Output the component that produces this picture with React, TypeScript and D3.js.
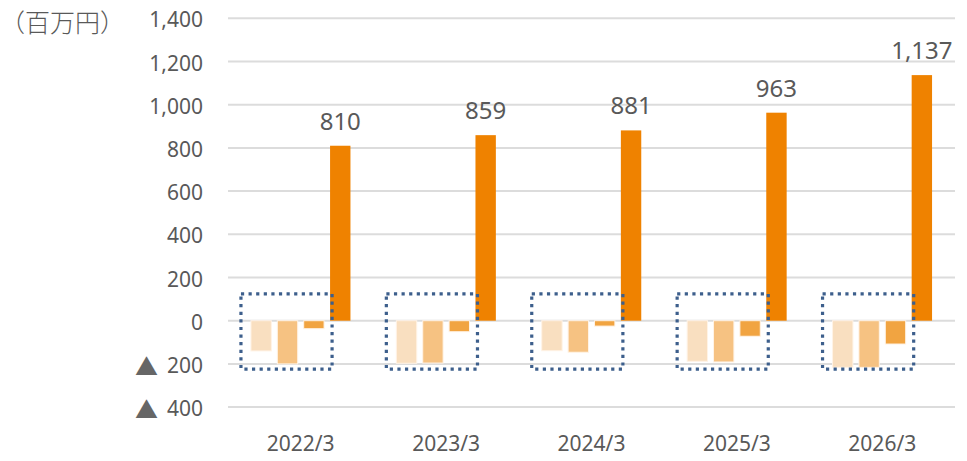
import React from "react";
import * as d3 from "d3";

const categories = ["2022/3", "2023/3", "2024/3", "2025/3", "2026/3"];
const seriesA = [-140, -197, -139, -188, -216];
const seriesB = [-200, -196, -146, -191, -216];
const seriesC = [-37, -51, -25, -72, -108];
const seriesTotal = [810, 859, 881, 963, 1137];
const yTicks = [1400, 1200, 1000, 800, 600, 400, 200, 0, -200, -400];
const unitLabel = "（百万円）";

const colors = ["#F9DFC0", "#F6C282", "#F1A441", "#EF8200"];

const W = 967;
const H = 461;

const App = () => {
  const x = d3.scaleBand().domain(categories).range([228, 955]).padding(0);
  const inner = d3
    .scaleBand<number>()
    .domain([0, 1, 2, 3])
    .range([0, x.bandwidth()])
    .paddingInner(0.227)
    .paddingOuter(0.87);
  const y = d3.scaleLinear().domain([-400, 1400]).range([407.1, 18.3]);

  const series = [seriesA, seriesB, seriesC, seriesTotal];
  const font = "'Noto Sans', 'Noto Sans CJK JP', sans-serif";
  const textColor = "#595959";

  return (
    <svg
      width={W}
      height={H}
      style={{ position: "absolute", left: 0, top: 0, background: "#fff" }}
      fontFamily={font}
    >
      {/* grid */}
      {yTicks.map((t) => (
        <line
          key={"g" + t}
          x1={228}
          x2={955}
          y1={y(t)}
          y2={y(t)}
          stroke="#DCDCDC"
          strokeWidth={2}
        />
      ))}
      {/* y tick labels, negatives shown with a triangle */}
      {yTicks.map((t) => (
        <g key={"t" + t}>
          <text
            x={203}
            y={y(t) + 1}
            textAnchor="end"
            dominantBaseline="central"
            fontSize={21}
            fill={textColor}
          >
            {d3.format(",")(Math.abs(t))}
          </text>
          {t < 0 && (
            <text
              x={158}
              y={y(t) + 1}
              textAnchor="end"
              dominantBaseline="central"
              fontSize={23}
              fill="#666"
              fontFamily="'Noto Sans CJK JP', sans-serif"
            >
              ▲
            </text>
          )}
        </g>
      ))}
      <text
        x={0}
        y={21}
        dominantBaseline="central"
        fontSize={25}
        fill={textColor}
        fontFamily="'Noto Sans CJK JP', sans-serif"
        fontWeight={300}
      >
        {unitLabel}
      </text>

      {/* bars */}
      {categories.map((c, i) => (
        <g key={c} transform={`translate(${x(c)},0)`}>
          {series.map((s, k) => {
            const v = s[i];
            const y0 = y(0);
            const y1 = y(v);
            return (
              <rect
                key={k}
                x={inner(k)}
                y={Math.min(y0, y1)}
                width={inner.bandwidth()}
                height={Math.abs(y1 - y0)}
                fill={colors[k]}
                stroke={k < 3 ? "#FFF3E6" : "none"}
                strokeWidth={1}
              />
            );
          })}
          <text
            x={(inner(3) as number) + inner.bandwidth() / 2}
            y={y(seriesTotal[i]) - 16}
            textAnchor="middle"
            fontSize={24}
            fill={textColor}
          >
            {d3.format(",")(seriesTotal[i])}
          </text>
          {/* dotted annotation box */}
          <rect
            x={(inner(0) as number) - 10}
            y={y(124)}
            width={(inner(2) as number) + inner.bandwidth() + 8 - ((inner(0) as number) - 10)}
            height={y(-224) - y(124)}
            fill="none"
            stroke="#3D5F8C"
            strokeWidth={3.2}
            strokeDasharray="3.2 4.4"
          />
          <text
            x={x.bandwidth() / 2}
            y={451}
            textAnchor="middle"
            fontSize={21}
            fill={textColor}
          >
            {c}
          </text>
        </g>
      ))}
    </svg>
  );
};

export default App;
